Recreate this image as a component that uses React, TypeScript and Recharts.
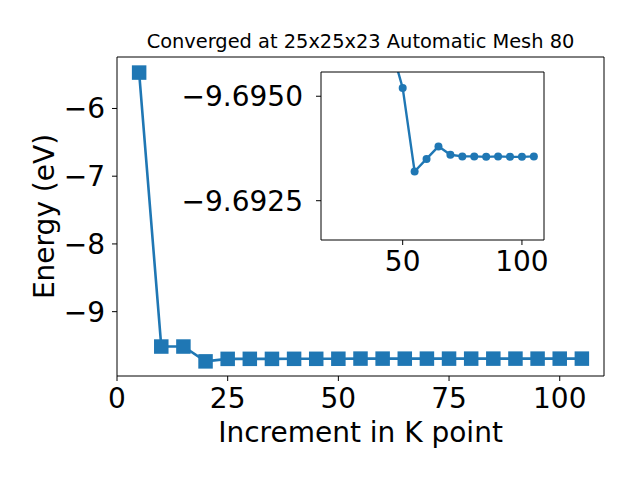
import React from 'react';
import { LineChart, Line, XAxis, YAxis, Label, CartesianGrid } from 'recharts';

const kPoints = [5, 10, 15, 20, 25, 30, 35, 40, 45, 50, 55, 60, 65, 70, 75, 80, 85, 90, 95, 100, 105];
const energies = [
  -5.47, -9.515, -9.515, -9.734, -9.697, -9.6965, -9.697, -9.6963, -9.6962, -9.6952,
  -9.6932, -9.6935, -9.6938, -9.6936, -9.69356, -9.69356, -9.69355, -9.69356, -9.69355, -9.69355, -9.69356,
];
const insetStartK = 20;
const mainXTicks = [0, 25, 50, 75, 100];
const mainYTicks = [-9, -8, -7, -6];
const insetXTicks = [50, 100];
const insetYTicks = [-9.695, -9.6925];

const titleText = 'Converged at 25x25x23 Automatic Mesh 80';
const xLabelText = 'Increment in K point';
const yLabelText = 'Energy (eV)';

const data = kPoints.map((k, i) => ({ k, e: energies[i] }));
const insetData = data.filter((d) => d.k >= insetStartK);

const FONT = 'DejaVu Sans';
const BLUE = '#1f77b4';
const minus = (s: string) => s.replace('-', '\u2212');

const SquareDot = (props: any) => {
  const { cx, cy, index } = props;
  if (cx == null || cy == null) return <g key={index} />;
  const s = 14.5;
  return <rect key={index} x={cx - s / 2} y={cy - s / 2} width={s} height={s} fill={BLUE} />;
};

export default function App() {
  const tickStyle = { fontSize: 28, fill: '#000', fontFamily: FONT };
  return (
    <div style={{ position: 'absolute', left: 0, top: 0, width: 640, height: 480, background: '#fff' }}>
      <div style={{ position: 'absolute', left: 0, top: 0 }}>
        <LineChart width={640} height={480} data={data} margin={{ top: 56, right: 35, bottom: 0, left: 0 }}>
          <XAxis
            dataKey="k"
            type="number"
            domain={[0, 110]}
            ticks={mainXTicks}
            height={104}
            stroke="#000"
            tickSize={5}
            tickMargin={7}
            tick={tickStyle}
          >
            <Label value={xLabelText} position="insideBottom" offset={38} style={{ fontSize: 28, fill: '#000', fontFamily: FONT }} />
          </XAxis>
          <XAxis
            xAxisId="top"
            orientation="top"
            dataKey="k"
            type="number"
            domain={[0, 110]}
            height={1}
            tick={false}
            tickLine={false}
            stroke="#000"
          >
            <Label value={titleText} position="top" offset={8} style={{ fontSize: 19.4, fill: '#000', fontFamily: FONT }} />
          </XAxis>
          <YAxis
            type="number"
            domain={[-9.95, -5.24]}
            ticks={mainYTicks}
            width={117}
            stroke="#000"
            tickSize={5}
            tickMargin={7}
            tick={tickStyle}
            tickFormatter={(v: number) => minus(String(v))}
          >
            <Label value={yLabelText} angle={-90} position="insideLeft" offset={44} style={{ fontSize: 28, fill: '#000', fontFamily: FONT, textAnchor: 'middle' }} />
          </YAxis>
          <YAxis
            yAxisId="right"
            orientation="right"
            type="number"
            domain={[-9.95, -5.24]}
            width={1}
            tick={false}
            tickLine={false}
            stroke="#000"
          />
          <Line
            dataKey="e"
            stroke={BLUE}
            strokeWidth={2.6}
            dot={SquareDot}
            activeDot={false}
            isAnimationActive={false}
          />
        </LineChart>
      </div>
      <div style={{ position: 'absolute', left: 0, top: 0 }}>
        <LineChart width={640} height={480} data={insetData} margin={{ top: 71, right: 95, bottom: 0, left: 0 }}>
          <CartesianGrid horizontal={false} vertical={false} fill="#fff" />
          <XAxis
            dataKey="k"
            type="number"
            domain={[15.75, 109.25]}
            allowDataOverflow
            ticks={insetXTicks}
            height={240}
            stroke="#000"
            tickSize={5}
            tickMargin={6}
            tick={tickStyle}
          />
          <XAxis
            xAxisId="top"
            orientation="top"
            dataKey="k"
            type="number"
            domain={[15.75, 109.25]}
            allowDataOverflow
            height={1}
            tick={false}
            tickLine={false}
            stroke="#000"
          />
          <YAxis
            type="number"
            domain={[-9.69558, -9.69156]}
            allowDataOverflow
            reversed
            ticks={insetYTicks}
            width={321}
            stroke="#000"
            tickSize={5}
            tickMargin={13}
            tick={tickStyle}
            tickFormatter={(v: number) => minus(v.toFixed(4))}
          />
          <YAxis
            yAxisId="right"
            orientation="right"
            type="number"
            domain={[-9.69558, -9.69156]}
            allowDataOverflow
            width={1}
            tick={false}
            tickLine={false}
            stroke="#000"
          />
          <Line
            dataKey="e"
            stroke={BLUE}
            strokeWidth={2.4}
            dot={{ r: 4, fill: BLUE, stroke: BLUE, strokeWidth: 0 }}
            activeDot={false}
            isAnimationActive={false}
          />
        </LineChart>
      </div>
    </div>
  );
}
